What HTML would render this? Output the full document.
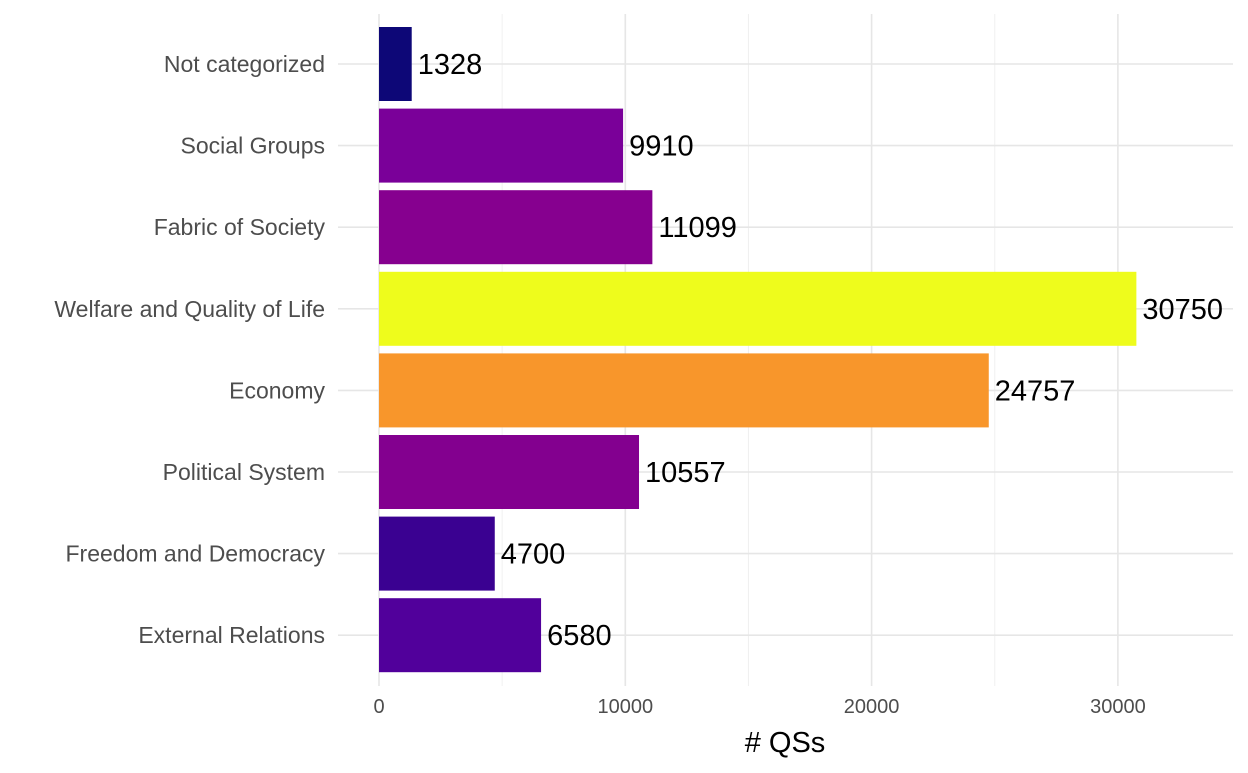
<!DOCTYPE html>
<html><head><meta charset="utf-8"><style>
body{margin:0;background:#fff;font-family:"Liberation Sans",sans-serif}
</style></head><body>
<svg id="chart" width="1248" height="768" xmlns="http://www.w3.org/2000/svg"></svg>
<script>
const categories=["External Relations","Freedom and Democracy","Political System","Economy","Welfare and Quality of Life","Fabric of Society","Social Groups","Not categorized"];
const values=[6580,4700,10557,24757,30750,11099,9910,1328];
const colors=["#51009b","#3a0191","#83008f","#f8962b","#eefc1c","#86008f","#7a0099","#0d0777"];
const xTicks=[0,10000,20000,30000];
const minorTicks=[5000,15000,25000];
const svg=document.getElementById('chart');
const NS="http://www.w3.org/2000/svg";
const x=v=>379+v*0.02463;
const rowStep=81.6, topCenter=64;
const y=i=>topCenter+(categories.length-1-i)*rowStep;
const barH=74;
function mk(t,a){const e=document.createElementNS(NS,t);for(const k in a)e.setAttribute(k,a[k]);svg.appendChild(e);return e;}
minorTicks.forEach(v=>{const l=mk('line',{x1:x(v),x2:x(v),y1:14,y2:686,stroke:'#f0f0f0','stroke-width':1});

});
xTicks.forEach(v=>{const l=mk('line',{x1:x(v),x2:x(v),y1:14,y2:686,stroke:'#e6e6e6','stroke-width':1.6});


const t=mk('text',{x:x(v),y:713,'text-anchor':'middle','font-size':20,fill:'#4d4d4d'});t.textContent=v;

});
categories.forEach((c,i)=>{const l=mk('line',{x1:338,x2:1233,y1:y(i),y2:y(i),stroke:'#e6e6e6','stroke-width':1.6});

});
categories.forEach((c,i)=>{
const r=mk('rect',{x:x(0),y:y(i)-barH/2,width:x(values[i])-x(0),height:barH,fill:colors[i]});


const t=mk('text',{x:x(values[i])+6,y:y(i)+10,'font-size':29,fill:'#000'});t.textContent=values[i];


const cl=mk('text',{x:325,y:y(i)+8,'text-anchor':'end','font-size':23,fill:'#4d4d4d'});cl.textContent=c;


});
const at=mk('text',{x:785,y:752,'text-anchor':'middle','font-size':29,fill:'#000'});at.textContent='# QSs';


</script>
</body></html>
